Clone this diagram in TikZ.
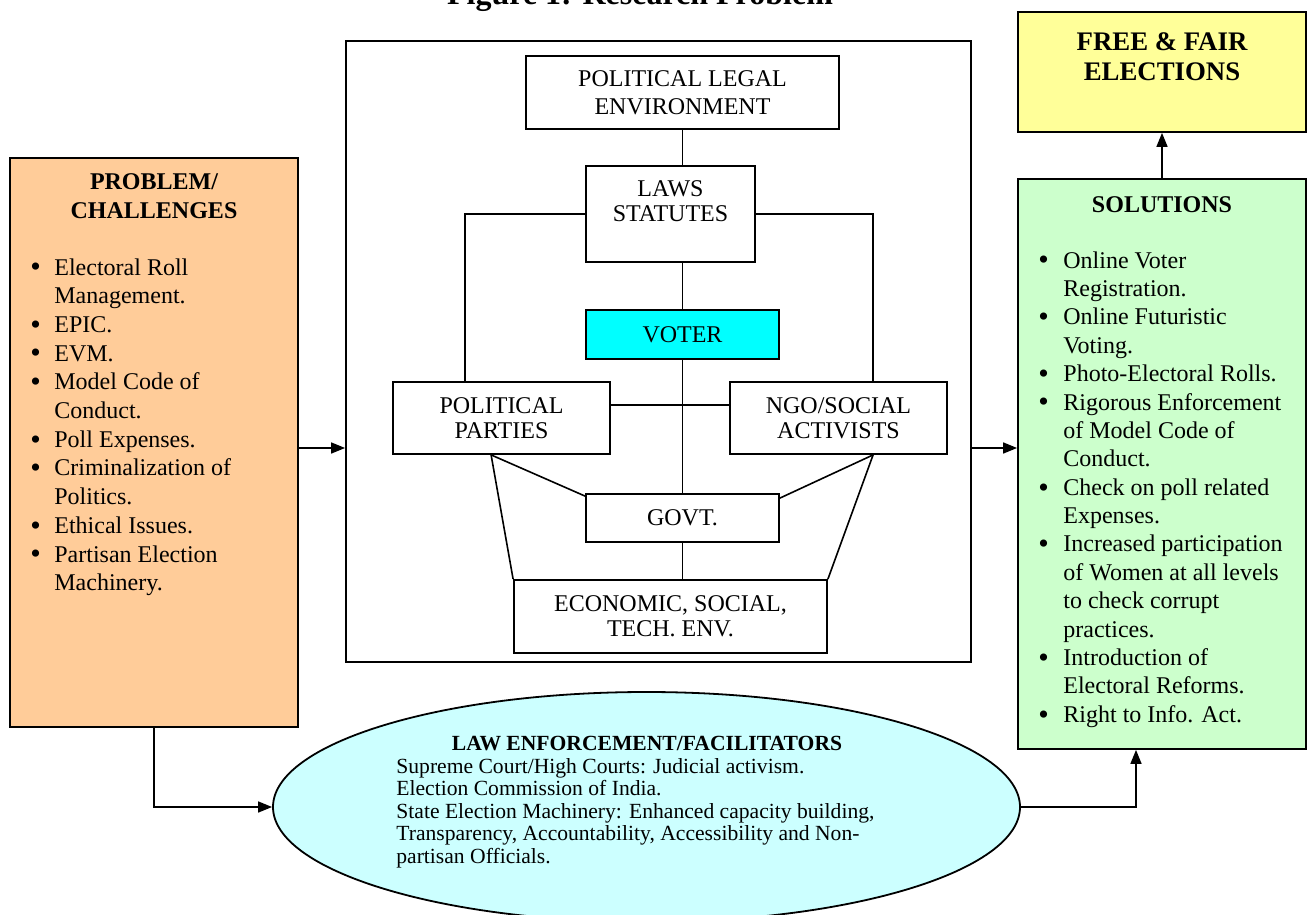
\documentclass[tikz,border=0pt]{standalone}
\usepackage{fontspec}
\setmainfont{Liberation Serif}
\usetikzlibrary{shapes.geometric,arrows.meta,calc}
\definecolor{peach}{HTML}{FFCC99}
\definecolor{lgreen}{HTML}{CCFFCC}
\definecolor{yellowc}{HTML}{FFFF99}
\definecolor{vcyan}{HTML}{00FFFF}
\definecolor{lcyan}{HTML}{CCFFFF}
\newcommand{\bul}{\raisebox{-0.9pt}{\fontsize{15}{15}\selectfont\textbullet}}
\begin{document}
\begin{tikzpicture}[x=0.5pt,y=-0.5pt,
  box/.style={draw,line width=0.9pt,inner sep=1pt,align=center,font=\fontsize{12}{12.5}\selectfont},
  txt/.style={inner sep=0pt},
  conn/.style={line width=0.8pt},
  arr/.style={line width=0.8pt,-{Triangle[length=7pt,width=5.5pt]}}]
\useasboundingbox (0,0) rectangle (1312,915);

% title (partly cut off at top, as in the reference)
\node[txt,anchor=base,font=\fontsize{16}{18}\selectfont\bfseries] (title) at (640,5) {Figure 1: Research Problem};

% left box
\node[box,fill=peach,minimum width=144pt,minimum height=284.5pt] (prob) at (154,442.5) {};
\node[txt,anchor=base,font=\fontsize{12}{14}\selectfont\bfseries] (probhead) at (154,190)
  {\begin{tabular}[t]{@{}c@{}}PROBLEM/\\CHALLENGES\end{tabular}};
\node[txt,anchor=base west,font=\fontsize{12}{14.35}\selectfont] (problist) at (30,275)
  {\begin{tabular}[t]{@{}p{12pt}@{}l@{}}
  \bul & Electoral Roll\\
       & Management.\\
  \bul & EPIC.\\
  \bul & EVM.\\
  \bul & Model Code of\\
       & Conduct.\\
  \bul & Poll Expenses.\\
  \bul & Criminalization of\\
       & Politics.\\
  \bul & Ethical Issues.\\
  \bul & Partisan Election\\
       & Machinery.
  \end{tabular}};

% central frame
\node[draw,line width=0.9pt,minimum width=312.5pt,minimum height=310.5pt,inner sep=0pt] (cbox) at (658.5,351.5) {};
\node[box,minimum width=156.5pt,minimum height=36.5pt,font=\fontsize{12}{14}\selectfont] (ple) at (682.5,92.5) {POLITICAL LEGAL\\ENVIRONMENT};
\node[box,minimum width=84.5pt,minimum height=48pt] (laws) at (670.5,214) {LAWS\\STATUTES\\\mbox{}};
\node[box,fill=vcyan,minimum width=96.5pt,minimum height=24.5pt] (voter) at (682.5,334.5) {VOTER};
\node[box,minimum width=108.5pt,minimum height=36pt] (pp) at (501.5,418) {POLITICAL\\PARTIES};
\node[box,minimum width=108.5pt,minimum height=36pt] (ngo) at (838.5,418) {NGO/SOCIAL\\ACTIVISTS};
\node[box,minimum width=96.5pt,minimum height=24pt] (govt) at (682.5,518) {GOVT.};
\node[box,minimum width=156.5pt,minimum height=36.5pt] (eco) at (670.5,616.5) {ECONOMIC, SOCIAL,\\TECH. ENV.};

% right boxes
\node[box,fill=yellowc,minimum width=144pt,minimum height=60pt] (ffe) at (1162,72) {};
\node[txt,anchor=base,font=\fontsize{13.4}{14.6}\selectfont\bfseries] (ffehead) at (1162,51)
  {\begin{tabular}[t]{@{}c@{}}FREE \& FAIR\\ELECTIONS\end{tabular}};
\node[box,fill=lgreen,minimum width=144pt,minimum height=285pt] (sol) at (1162,464) {};
\node[txt,anchor=base,font=\fontsize{12}{14}\selectfont\bfseries] (solhead) at (1162,213) {SOLUTIONS};
\node[txt,anchor=base west,font=\fontsize{12}{14.2}\selectfont] (sollist) at (1038,268)
  {\begin{tabular}[t]{@{}p{12.5pt}@{}l@{}}
  \bul & Online Voter\\
       & Registration.\\
  \bul & Online Futuristic\\
       & Voting.\\
  \bul & Photo-Electoral Rolls.\\
  \bul & Rigorous Enforcement\\
       & of Model Code of\\
       & Conduct.\\
  \bul & Check on poll related\\
       & Expenses.\\
  \bul & Increased participation\\
       & of Women at all levels\\
       & to check corrupt\\
       & practices.\\
  \bul & Introduction of\\
       & Electoral Reforms.\\
  \bul & Right to Info. Act.
  \end{tabular}};

% ellipse
\node[draw,line width=0.9pt,fill=lcyan,ellipse,minimum width=373.5pt,minimum height=115pt,inner sep=0pt] (law) at (646.5,807) {};
\node[txt,anchor=base,font=\fontsize{10.8}{11.25}\selectfont\bfseries] (lawhead) at (647,750) {LAW ENFORCEMENT/FACILITATORS};
\node[txt,anchor=base west,font=\fontsize{10.8}{11.25}\selectfont] (lawbody) at (396,773)
  {\begin{tabular}[t]{@{}l@{}}
  Supreme Court/High Courts: Judicial activism.\\
  Election Commission of India.\\
  State Election Machinery: Enhanced capacity building,\\
  Transparency, Accountability, Accessibility and Non-\\
  partisan Officials.
  \end{tabular}};

% connectors inside the frame
\draw[conn] (ple.south) -- (laws.north -| ple.south);
\draw[conn] (laws.west) -| ($(pp.north west)+(73,0)$);
\draw[conn] (laws.east) -| ($(ngo.north west)+(144,0)$);
\draw[conn] (laws.south -| voter.north) -- (voter.north);
\draw[conn] (voter.south) -- (govt.north);
\draw[conn] ($(pp.north east)+(0,24)$) -- ($(ngo.north west)+(0,24)$);
\coordinate (ppb) at ($(pp.south west)+(99,0)$);
\coordinate (ngob) at ($(ngo.south west)+(144,0)$);
\draw[conn] (ppb) -- ($(govt.north west)+(0,3)$);
\draw[conn] (ppb) -- (eco.north west);
\draw[conn] (ngob) -- ($(govt.north east)+(0,5)$);
\draw[conn] (ngob) -- (eco.north east);
\draw[conn] (govt.south) -- (govt.south |- eco.north);

% arrows
\coordinate (ay) at (0,448);
\coordinate (solin) at ($(sol.south)+(-26,0)$);
\draw[arr] (prob.east |- ay) -- (cbox.west |- ay);
\draw[arr] (cbox.east |- ay) -- (sol.west |- ay);
\draw[arr] (sol.north) -- (ffe.south);
\draw[arr] (prob.south) |- (law.west);
\draw[arr] (law.east) -| (solin);
\end{tikzpicture}
\end{document}
